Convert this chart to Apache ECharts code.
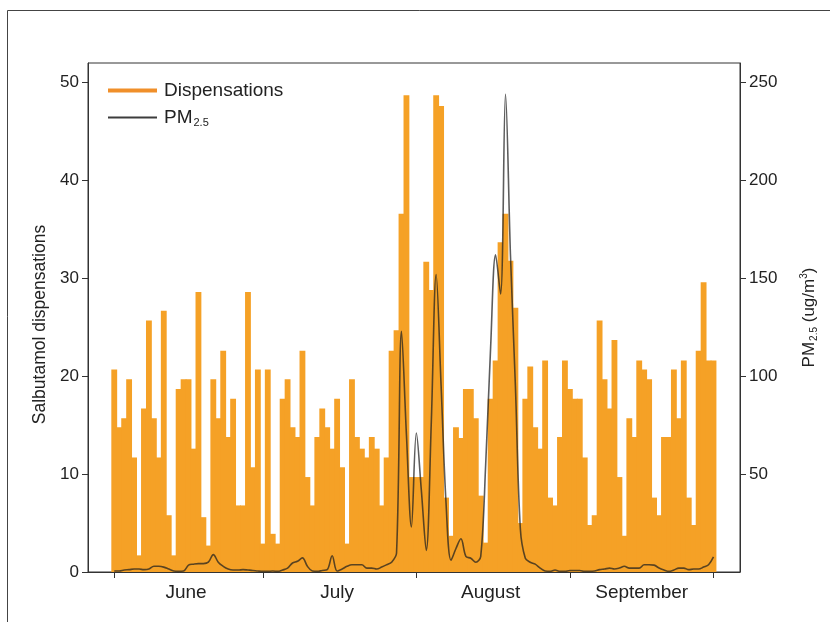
<!DOCTYPE html>
<html>
<head>
<meta charset="utf-8">
<script src="https://cdn.jsdelivr.net/npm/echarts@6/dist/echarts.min.js"></script>
<style>
  html, body { margin: 0; padding: 0; background: #fff; }
  #chart { width: 830px; height: 622px; }
</style>
</head>
<body>
<div id="chart"></div>
<script>
// ---- data ----
const months = ['June', 'July', 'August', 'September'];
const monthLengths = [30, 31, 31, 30];

// daily salbutamol dispensations, 1 June .. 30 September
const dispensations = [
  20.7, 14.8, 15.7, 19.7, 11.7, 1.7, 16.7, 25.7, 15.7, 11.7,
  26.7, 5.8, 1.7, 18.7, 19.7, 19.7, 12.6, 28.6, 5.6, 2.7,
  19.7, 15.7, 22.6, 13.8, 17.7, 6.8, 6.8, 28.6, 10.7, 20.7,
  2.9, 20.7, 3.9, 2.9, 17.7, 19.7, 14.8, 13.8, 22.6, 9.7,
  6.8, 13.8, 16.7, 14.8, 12.6, 17.7, 10.7, 2.9, 19.7, 13.8,
  12.6, 11.7, 13.8, 12.6, 6.8, 11.7, 22.6, 24.7, 36.6, 48.7,
  9.7, 9.7, 9.7, 31.7, 28.8, 48.7, 47.6, 7.6, 3.7, 14.8,
  13.7, 18.7, 18.7, 15.7, 7.8, 3.0, 17.7, 21.6, 33.7, 36.6,
  31.8, 27.0, 5.0, 17.7, 21.0, 14.8, 12.6, 21.6, 7.6, 6.8,
  13.8, 21.6, 18.7, 17.7, 17.7, 11.7, 4.8, 5.8, 25.7, 19.7,
  16.7, 23.7, 9.7, 3.7, 15.7, 13.8, 21.6, 20.7, 19.7, 7.6,
  5.8, 13.8, 13.8, 20.7, 15.7, 21.6, 7.6, 4.8, 22.6, 29.6,
  21.6, 21.6
];

// daily PM2.5 (ug/m3)
const pm25 = [
  0.5, 0.5, 1, 1.2, 1.5, 1.5, 1.2, 1.5, 2.9, 2.9,
  2.5, 1.5, 0.5, 0.3, 0.5, 3.5, 4, 4.3, 4.3, 5,
  8.9, 5, 2.9, 1.5, 1, 1, 1.2, 1, 0.8, 0.5,
  0.3, 0.3, 0.5, 0.3, 1, 2, 4.6, 5.5, 7.2, 2.9,
  0.5, 0.3, 0.8, 1.2, 8.3, 0.5, 1.5, 2.9, 3.7, 3.7,
  3.7, 2, 2, 1.5, 2.5, 3.7, 5, 9.7, 123, 70,
  23, 71, 42, 11, 75, 152, 95, 35, 6, 12,
  17, 8, 7, 5, 8, 55, 115, 162, 142, 244,
  162, 95, 22, 7, 5, 4, 2, 0.5, 0.3, 1,
  0.3, 0.3, 0.8, 0.8, 0.8, 0.3, 0.3, 0.5, 1.2, 1.5,
  2, 1.5, 2, 2.9, 2, 2, 2, 3.7, 3.7, 3.5,
  2, 1, 0.3, 1, 2, 2, 1.2, 1.5, 1.5, 2.5,
  3.7, 7.7
];

const leftTicks = [0, 10, 20, 30, 40, 50];
const rightTicks = [50, 100, 150, 200, 250];

// ---- derived helpers ----
const firstDays = [];
monthLengths.reduce((acc, len) => { firstDays.push(acc); return acc + len; }, 0);
const nDays = dispensations.length;
// tick at the centre of the first day of each month, and at the last day
const xTicks = firstDays.map(d => d + 0.5).concat([nDays - 0.5]);
const xLabelPos = firstDays.map((d, k) => d + monthLengths[k] / 2);

const barData = dispensations.map((v, i) => [i + 0.5, v]);
const lineData = pm25.map((v, i) => [i + 0.5, v]);

const FONT = "'Liberation Sans', Arial, sans-serif";
const TXT = '#222';
const AX = '#333';
const BAR = '#F5A126';

const chart = echarts.init(document.getElementById('chart'), null, { renderer: 'canvas' });

chart.setOption({
  backgroundColor: '#fff',
  animation: false,
  textStyle: { fontFamily: FONT },
  graphic: [{
    type: 'rect',
    shape: { x: 7.5, y: 10.5, width: 900, height: 700 },
    style: { fill: 'none', stroke: '#444', lineWidth: 1 },
    silent: true
  }],
  grid: {
    left: 88, right: 90, top: 63, bottom: 50,
    show: true, borderColor: AX, borderWidth: 1, backgroundColor: 'transparent'
  },
  legend: [{
    left: 103, top: 76, orient: 'vertical',
    itemWidth: 49, itemHeight: 4,
    data: [{ name: 'Dispensations', icon: 'rect', itemStyle: { color: '#F08F2A', borderWidth: 0 } }],
    textStyle: { fontSize: 19, color: TXT, fontFamily: FONT, padding: [0, 0, 0, 2] },
    selectedMode: false
  }, {
    left: 103, top: 103, orient: 'vertical',
    itemWidth: 49, itemHeight: 2,
    data: [{ name: 'PM25', icon: 'rect', itemStyle: { color: '#3c3c3c', borderWidth: 0 } }],
    formatter: () => '{a|PM}{sub|2.5}',
    textStyle: {
      fontSize: 19, color: TXT, fontFamily: FONT, padding: [0, 0, 0, 2],
      rich: {
        a: { fontSize: 19, color: TXT, fontFamily: FONT },
        sub: { fontSize: 11, color: TXT, fontFamily: FONT, padding: [11, 0, 0, 1] }
      }
    },
    selectedMode: false
  }],
  xAxis: {
    type: 'value',
    min: -4.8, max: 126.85,
    splitLine: { show: false },
    axisLine: { show: true, onZero: false, lineStyle: { color: AX, width: 1 } },
    axisTick: { show: true, customValues: xTicks, length: 6, lineStyle: { color: AX } },
    axisLabel: {
      customValues: xLabelPos,
      margin: 11,
      fontSize: 19, color: TXT, fontFamily: FONT,
      formatter: function (v) {
        const k = xLabelPos.findIndex(p => Math.abs(p - v) < 1e-6);
        return k >= 0 ? months[k] : '';
      }
    }
  },
  yAxis: [{
    type: 'value',
    position: 'left',
    min: 0, max: 52,
    splitLine: { show: false },
    axisLine: { show: true, onZero: false, lineStyle: { color: AX } },
    axisTick: { show: true, customValues: leftTicks, length: 6, lineStyle: { color: AX } },
    axisLabel: { customValues: leftTicks, margin: 9, fontSize: 17, color: TXT, fontFamily: FONT },
    name: 'Salbutamol dispensations',
    nameLocation: 'middle',
    nameRotate: 90,
    nameGap: 38,
    nameTextStyle: { fontSize: 17.5, color: TXT, fontFamily: FONT, padding: [0, 14, 0, 0] }
  }, {
    type: 'value',
    position: 'right',
    min: 0, max: 260,
    splitLine: { show: false },
    axisLine: { show: true, onZero: false, lineStyle: { color: AX } },
    axisTick: { show: true, customValues: rightTicks, length: 6, lineStyle: { color: AX } },
    axisLabel: { customValues: rightTicks, margin: 9, fontSize: 17, color: TXT, fontFamily: FONT },
    name: '{a|PM}{sub|2.5}{a| (ug/m}{sup|3}{a|)}',
    nameLocation: 'middle',
    nameRotate: 90,
    nameGap: 59,
    nameTextStyle: {
      fontSize: 17, color: TXT, fontFamily: FONT,
      rich: {
        a: { fontSize: 17, color: TXT, fontFamily: FONT },
        sub: { fontSize: 10, color: TXT, fontFamily: FONT, padding: [10, 0, 0, 1] },
        sup: { fontSize: 10, color: TXT, fontFamily: FONT, padding: [0, 0, 10, 0] }
      }
    }
  }],
  series: [{
    name: 'Dispensations',
    type: 'bar',
    xAxisIndex: 0, yAxisIndex: 0,
    data: barData,
    barWidth: '118%',
    itemStyle: { color: BAR, borderWidth: 0 },
    z: 1
  }, {
    name: 'PM25',
    type: 'line',
    xAxisIndex: 0, yAxisIndex: 1,
    data: lineData,
    smooth: 0.35,
    showSymbol: false,
    symbol: 'none',
    itemStyle: { color: '#3c3c3c' },
    lineStyle: { color: 'rgba(30,30,30,0.72)', width: 1.6 },
    z: 3
  }]
});
</script>
</body>
</html>
